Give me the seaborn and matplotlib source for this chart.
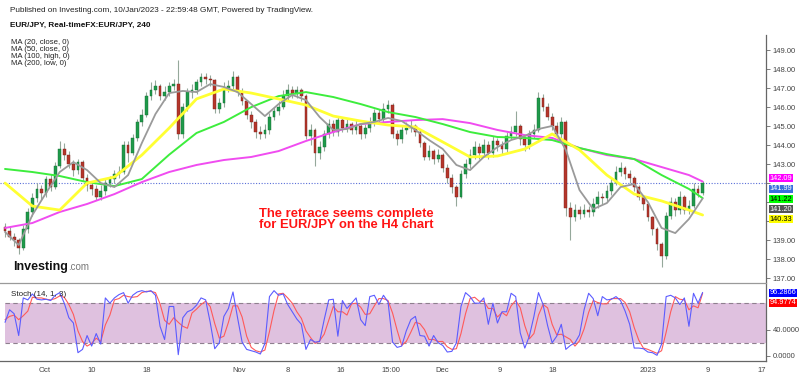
import numpy as np
import pandas as pd
import matplotlib
matplotlib.use("Agg")
import matplotlib.pyplot as plt
import seaborn as sns

# EUR/JPY, 12h candles (open = previous close)
first_open = 139.7
closes = [139.5, 139.2, 139.0, 138.6, 139.6, 140.5, 141.2, 141.7, 141.5, 142.2,
          141.8, 142.9, 143.8, 143.5, 143.0, 142.7, 143.1, 142.3, 141.9, 141.7,
          141.3, 141.6, 142.0, 142.2, 142.5, 142.6, 144.0, 143.6, 144.4, 145.2,
          145.6, 146.6, 146.9, 147.1, 146.6, 146.8, 147.1, 147.2, 144.6, 146.0,
          146.8, 146.9, 147.3, 147.6, 147.5, 147.4, 145.9, 146.2, 147.0, 147.1,
          147.6, 146.8, 146.3, 145.6, 145.2, 144.7, 144.6, 144.8, 145.5, 145.8,
          146.0, 146.6, 146.9, 146.7, 146.9, 146.6, 144.5, 144.8, 143.6, 143.9,
          144.6, 145.1, 144.7, 145.3, 144.9, 145.1, 144.8, 145.0, 144.6, 144.9,
          145.2, 145.7, 145.4, 145.9, 146.1, 144.6, 144.3, 144.8, 144.9, 145.0,
          144.7, 144.1, 143.4, 143.7, 143.3, 143.5, 142.8, 142.3, 141.8, 141.3,
          142.5, 143.0, 143.5, 143.9, 143.6, 144.0, 143.6, 144.2, 144.0, 143.8,
          144.5, 144.7, 145.0, 144.3, 144.0, 144.6, 144.8, 146.5, 146.0, 145.5,
          145.0, 144.6, 145.2, 140.7, 140.2, 140.6, 140.4, 140.6, 140.5, 140.9,
          141.3, 141.2, 141.6, 142.0, 142.6, 142.8, 142.5, 142.3, 141.8, 141.3,
          140.9, 140.2, 139.6, 138.8, 138.2, 140.3, 141.0, 140.6, 141.3, 140.6,
          140.8, 141.7, 141.5, 141.99]
highs = [139.9, 139.7, 139.4, 139.1, 139.8, 140.7, 141.5, 142.0, 141.9, 142.4,
         142.5, 143.1, 144.2, 144.1, 143.7, 143.2, 143.3, 143.2, 142.5, 142.1,
         141.9, 141.9, 142.2, 142.4, 142.7, 142.9, 144.2, 144.2, 144.6, 145.4,
         145.9, 146.8, 147.3, 147.4, 147.2, 147.1, 147.3, 147.5, 148.5, 146.2,
         147.0, 147.2, 147.5, 147.8, 147.8, 147.7, 147.5, 146.5, 147.3, 147.4,
         147.9, 147.7, 147.0, 146.4, 145.8, 145.4, 145.0, 145.1, 145.7, 146.0,
         146.3, 146.9, 147.2, 147.1, 147.1, 147.0, 146.7, 145.1, 144.9, 144.2,
         144.8, 145.4, 145.3, 145.5, 145.5, 145.4, 145.2, 145.3, 145.1, 145.1,
         145.5, 145.9, 145.9, 146.2, 146.4, 146.2, 144.8, 145.0, 145.2, 145.3,
         145.1, 144.8, 144.2, 144.0, 143.8, 143.8, 143.6, 143.0, 142.5, 141.9,
         142.7, 143.3, 143.8, 144.2, 144.1, 144.3, 144.2, 144.5, 144.4, 144.2,
         144.7, 145.0, 145.8, 145.1, 144.5, 144.8, 145.1, 146.8, 146.7, 146.2,
         145.7, 145.2, 145.5, 145.3, 141.0, 140.9, 140.8, 140.9, 140.8, 141.2,
         141.6, 141.5, 141.9, 142.3, 142.9, 143.1, 142.9, 142.7, 142.4, 141.9,
         141.4, 141.0, 140.3, 139.7, 138.9, 140.5, 141.3, 141.2, 141.6, 141.4,
         141.1, 142.0, 141.9, 142.1]
lows = [139.2, 139.0, 138.7, 138.3, 138.5, 139.4, 140.3, 141.0, 141.1, 141.3,
        141.6, 141.7, 142.8, 143.2, 142.8, 142.4, 142.5, 142.1, 141.6, 141.4,
        141.1, 141.1, 141.4, 141.8, 142.0, 142.3, 142.5, 143.1, 143.5, 144.2,
        145.0, 145.5, 146.4, 146.7, 146.4, 146.4, 146.6, 146.9, 144.3, 144.4,
        145.8, 146.5, 146.7, 147.1, 147.2, 147.1, 145.7, 145.7, 146.0, 146.8,
        146.9, 146.6, 146.1, 145.4, 144.9, 144.4, 144.3, 144.4, 144.6, 145.3,
        145.6, 145.9, 146.4, 146.5, 146.5, 146.3, 144.3, 144.0, 142.9, 143.3,
        143.7, 144.4, 144.5, 144.5, 144.7, 144.7, 144.6, 144.6, 144.3, 144.4,
        144.7, 145.0, 145.2, 145.2, 145.7, 144.4, 144.0, 144.1, 144.6, 144.7,
        144.5, 143.9, 143.2, 143.2, 143.0, 143.1, 142.6, 142.0, 141.5, 140.8,
        141.2, 142.3, 142.8, 143.3, 143.3, 143.4, 143.3, 143.4, 143.7, 143.5,
        143.6, 144.3, 144.5, 144.0, 143.7, 143.8, 144.4, 144.7, 145.8, 145.3,
        144.8, 144.4, 144.4, 140.3, 139.0, 140.0, 140.1, 140.2, 140.2, 140.3,
        140.7, 140.9, 141.0, 141.4, 141.9, 142.4, 142.2, 142.0, 141.6, 141.1,
        140.6, 140.0, 139.3, 138.5, 137.6, 138.0, 140.1, 140.3, 140.4, 140.4,
        140.4, 140.7, 141.3, 141.4]

# MA(20) read every 3 candles, the slower averages every 6 candles
ma20_idx = [0, 3, 6, 9, 12, 15, 18, 21, 24, 27, 30, 33, 36, 39, 42, 45, 48, 51,
            54, 57, 60, 63, 66, 69, 72, 75, 78, 81, 84, 87, 90, 93, 96, 99, 102,
            105, 108, 111, 114, 117, 120, 123, 126, 129, 132, 135, 138, 141, 144,
            147, 150, 153]
ma20 = [139.44, 138.75, 140.33, 141.49, 142.59, 143.11, 142.69, 142.01, 141.80,
        142.43, 144.11, 145.64, 146.74, 146.85, 146.79, 147.21, 147.06, 146.79,
        146.16, 145.53, 146.16, 146.64, 146.37, 145.48, 144.80, 144.85, 145.11,
        145.22, 145.43, 145.27, 144.80, 144.27, 143.80, 142.96, 142.69, 143.38,
        143.90, 144.27, 144.48, 144.85, 145.01, 143.75, 141.64, 140.64, 140.96,
        141.80, 141.96, 141.01, 139.65, 139.38, 140.12, 141.20]
ma_idx = [0, 6, 12, 18, 24, 30, 36, 42, 48, 54, 60, 66, 72, 78, 84, 90, 96,
          102, 108, 114, 120, 126, 132, 138, 144, 150, 153]
ma50 = [142.01, 140.80, 140.59, 142.01, 142.33, 143.48, 144.90, 146.43, 146.95,
        146.74, 146.43, 146.11, 145.53, 145.27, 145.06, 144.95, 144.17, 143.38,
        143.43, 143.80, 144.59, 143.75, 142.43, 141.43, 141.07, 140.59, 140.33]
ma100 = [142.75, 142.59, 142.38, 142.06, 141.85, 142.22, 143.50, 144.64, 145.22,
         146.00, 146.58, 146.79, 146.53, 146.16, 145.74, 145.48, 145.11, 144.69,
         144.43, 144.38, 144.27, 143.85, 143.53, 143.27, 142.43, 141.70, 141.22]
ma200 = [139.65, 139.91, 140.49, 140.91, 141.43, 142.06, 142.59, 142.96, 143.22,
         143.38, 143.69, 144.22, 144.69, 145.11, 145.22, 145.32, 145.37, 145.16,
         144.80, 144.53, 144.38, 143.85, 143.48, 143.27, 142.85, 142.43, 142.09]

# Stoch (14, 1, 3)
stoch_k = [51, 70, 64, 31, 88, 85, 94, 86, 85, 86, 84, 92, 96, 80, 58, 50, 5, 10, 31, 15,
           34, 18, 88, 80, 88, 93, 96, 80, 92, 97, 99, 97, 99, 92, 45, 25, 75, 75, 2, 58,
           67, 70, 77, 88, 85, 51, 11, 20, 60, 72, 97, 58, 21, 10, 8, 6, 3, 19, 90, 99,
           92, 94, 78, 67, 56, 48, 10, 25, 21, 22, 55, 85, 86, 30, 84, 72, 80, 88, 55, 46,
           90, 92, 78, 92, 82, 21, 13, 15, 38, 55, 60, 31, 30, 15, 31, 20, 16, 6, 7, 20,
           75, 96, 90, 80, 80, 88, 48, 80, 50, 67, 67, 95, 90, 35, 12, 30, 60, 96, 78, 46,
           20, 30, 48, 10, 16, 20, 32, 70, 95, 87, 61, 90, 85, 86, 90, 84, 68, 48, 12, 12,
           11, 6, 5, 1, 18, 90, 92, 88, 78, 88, 45, 95, 80, 96.29]
stoch_d = [55, 60, 62, 55, 61, 68, 89, 88, 88, 86, 85, 87, 91, 89, 78, 63, 38, 22, 15, 19,
           27, 22, 47, 62, 85, 87, 92, 90, 89, 90, 96, 98, 98, 96, 79, 54, 48, 58, 51, 45,
           42, 65, 71, 78, 83, 75, 49, 27, 30, 51, 76, 76, 59, 30, 13, 8, 6, 9, 37, 69,
           94, 95, 88, 80, 67, 57, 38, 28, 19, 23, 33, 54, 75, 67, 67, 62, 79, 80, 74, 63,
           64, 76, 87, 87, 84, 65, 39, 16, 22, 36, 51, 49, 40, 25, 25, 22, 22, 14, 10, 11,
           34, 64, 87, 89, 83, 83, 72, 72, 59, 66, 61, 76, 84, 73, 46, 26, 34, 62, 78, 73,
           48, 32, 33, 29, 25, 15, 23, 41, 66, 84, 81, 79, 79, 87, 87, 87, 81, 67, 43, 24,
           12, 10, 7, 4, 8, 36, 67, 90, 86, 85, 70, 76, 73, 94.98]

date_ticks = [8.6, 19.1, 31.1, 51.3, 62.1, 73.7, 84.6, 95.8, 108.6, 120.2, 141.0, 154.2, 166.0]
date_labels = ["Oct", "10", "18", "Nov", "8", "16", "15:00", "Dec", "9", "18", "2023", "9", "17"]
price_ticks = [137, 138, 139, 140, 141, 142, 143, 144, 145, 146, 147, 148, 149]
# 140-142 are hidden under the last-value boxes in the original
price_tick_labels = ["137.00", "138.00", "139.00", "", "", "", "143.00", "144.00",
                     "145.00", "146.00", "147.00", "148.00", "149.00"]

last_labels = ["142.09", "141.99", "141.22", "141.20", "140.33"]
last_at = [142.27, 141.72, 141.17, 140.64, 140.12]
last_bg = ["#ff00ff", "#3a6fdc", "#00ff00", "#555555", "#ffff00"]
last_fg = ["white", "white", "black", "white", "black"]

sns.set_style("white")
plt.rcParams["font.family"] = ["Liberation Sans", "DejaVu Sans"]

W, H = 800, 376


def rect(x0, y0, x1, y1):
    return [x0 / W, 1 - y1 / H, (x1 - x0) / W, (y1 - y0) / H]


fig = plt.figure(figsize=(8, 3.76), dpi=100)
ax = fig.add_axes(rect(0, 35, 766, 282))
ax2 = fig.add_axes(rect(0, 283, 766, 361), sharex=ax)

closes = np.array(closes)
opens = np.r_[first_open, closes[:-1]]
idx = np.arange(len(closes))
up = closes >= opens
body = np.where(up, "#1f9a4a", "#b5362b")
edge = np.where(up, "#146b32", "#7a1f18")

# candles
ax.vlines(idx, lows, highs, color="#95a89b", lw=0.8, zorder=2)
ax.bar(idx, closes - opens, bottom=opens, width=0.6, color=body,
       edgecolor=edge, linewidth=0.3, zorder=3)

# moving averages
ma_df = pd.DataFrame({"i": ma_idx, "MA50": ma50, "MA100": ma100, "MA200": ma200})
ma_style = {"MA200": ("#f04cf0", 1.4), "MA100": ("#3ded3d", 1.4),
            "MA50": ("#ffff33", 2.0)}
for name, (col, lw) in ma_style.items():
    sns.lineplot(data=ma_df, x="i", y=name, color=col, lw=lw, ax=ax, zorder=4)
sns.lineplot(x=ma20_idx, y=ma20, color="#9a9a9a", lw=1.3, ax=ax, zorder=4)

ax.axhline(closes[-1], color="#5a6fd8", lw=0.8, ls=(0, (1, 1.5)), zorder=1)

ax.set_xlim(-1.1, 166.9)
ax.set_ylim(136.81, 149.79)
ax.set_xlabel("")
ax.set_ylabel("")
ax.yaxis.tick_right()
ax.set_yticks(price_ticks, price_tick_labels)
ax.tick_params(axis="y", labelsize=5.5, labelcolor="#444444", length=3,
               color="#666666", width=0.6, pad=2)
ax.tick_params(axis="x", bottom=False, labelbottom=False)
for s in ["top", "left", "bottom"]:
    ax.spines[s].set_visible(False)
ax.spines["right"].set_color("#666666")
ax.spines["right"].set_linewidth(0.9)

for txt, yv, bg, fg in zip(last_labels, last_at, last_bg, last_fg):
    ax.annotate(txt, xy=(1, yv), xycoords=("axes fraction", "data"),
                xytext=(2.5, 0), textcoords="offset points", ha="left", va="center",
                fontsize=5.3, color=fg, annotation_clip=False,
                bbox=dict(boxstyle="square,pad=0.06", fc=bg, ec="none"))

# stochastic panel
ax2.axhspan(20, 80, xmin=5 / 766, xmax=1, color="#dfc1df", lw=0, zorder=0)
for lvl in (20, 80):
    ax2.axhline(lvl, xmin=5 / 766, color="#8e7f8e", lw=0.8, ls=(0, (4, 3)), zorder=1)
sns.lineplot(x=idx, y=stoch_d, color="#ff5a5a", lw=0.8, ax=ax2, zorder=2)
sns.lineplot(x=idx, y=stoch_k, color="#5c5cff", lw=0.8, ax=ax2, zorder=3)
ax2.set_ylim(-7.6, 110.6)
ax2.yaxis.tick_right()
ax2.set_yticks([0, 40], ["0.0000", "40.0000"])
ax2.tick_params(axis="y", labelsize=5.5, labelcolor="#444444", length=3,
                color="#666666", width=0.6, pad=2)
ax2.set_xticks(date_ticks, date_labels)
ax2.tick_params(axis="x", labelsize=5.5, labelcolor="#444444", length=2,
                color="#666666", width=0.6, pad=2)
ax2.set_xlabel("")
ax2.set_ylabel("")
ax2.spines["left"].set_visible(False)
ax2.spines["top"].set_color("#9a9a9a")
ax2.spines["top"].set_linewidth(0.9)
for s in ["right", "bottom"]:
    ax2.spines[s].set_color("#666666")
    ax2.spines[s].set_linewidth(0.9)

for txt, yv, bg in [("96.2866", 95.5, "#0000ff"), ("94.9774", 80.3, "#ff0000")]:
    ax2.annotate(txt, xy=(1, yv), xycoords=("axes fraction", "data"),
                 xytext=(2.5, 0), textcoords="offset points", ha="left", va="center",
                 fontsize=5.3, color="white", annotation_clip=False,
                 bbox=dict(boxstyle="square,pad=0.06", fc=bg, ec="none"))

ax2.text(11 / 766, 0.85, "Stoch (14, 1, 3)", transform=ax2.transAxes,
         fontsize=5.8, color="#222222", va="center")

# header and legend text
fig.text(10 / W, 1 - 11 / H, "Published on Investing.com, 10/Jan/2023 - 22:59:48 GMT, "
         "Powered by TradingView.", fontsize=5.9, color="#222222", va="center")
fig.text(10 / W, 1 - 25 / H, "EUR/JPY, Real-timeFX:EUR/JPY, 240", fontsize=5.9,
         fontweight="bold", color="#111111", va="center")
fig.text(11 / W, 1 - 53 / H, "MA (20, close, 0)\nMA (50, close, 0)\nMA (100, high, 0)\n"
         "MA (200, low, 0)", fontsize=5.6, color="#222222", va="center", linespacing=0.95)

logo = fig.text(13 / W, 1 - 267 / H, "Investing", fontsize=9, fontweight="bold",
                color="#111111", va="center")
ax.annotate(".com", xy=(1, 0.12), xycoords=logo, ha="left", va="bottom",
            fontsize=7, color="#777777")

fig.text(259 / W, 1 - 219.5 / H, "The retrace seems complete\nfor EUR/JPY on the H4 chart",
         fontsize=9.4, fontweight="bold", color="#ff1414", va="center", ha="left",
         linespacing=1.0)

fig.savefig("out.png", dpi=100)
